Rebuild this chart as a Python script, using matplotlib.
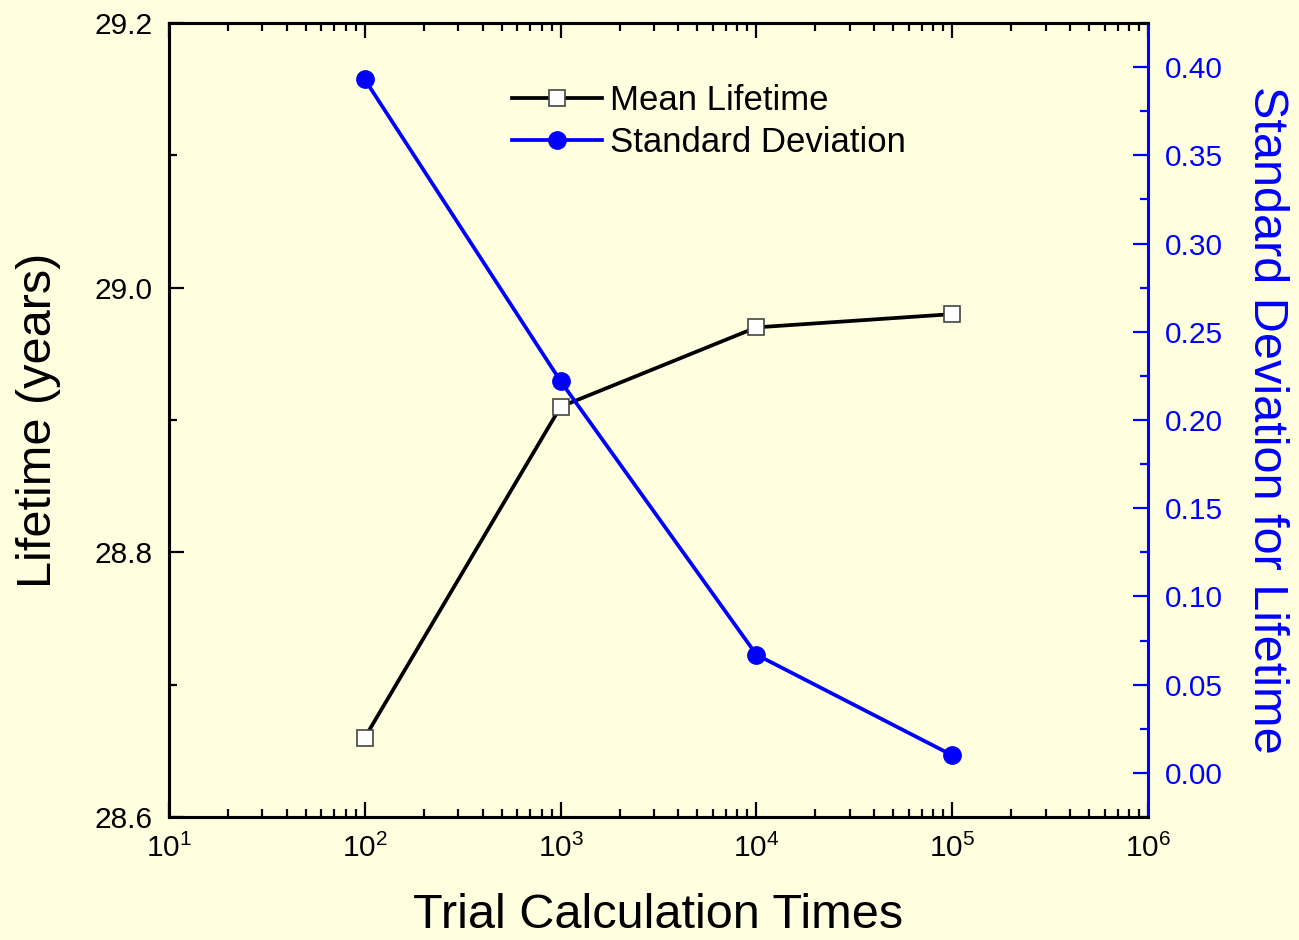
import matplotlib
matplotlib.use('Agg')
import matplotlib.pyplot as plt
from matplotlib.ticker import LogLocator, MultipleLocator, FormatStrFormatter

plt.rcParams['font.family'] = ['Liberation Sans', 'DejaVu Sans']
plt.rcParams['mathtext.fontset'] = 'custom'
plt.rcParams['mathtext.rm'] = 'Liberation Sans'
plt.rcParams['mathtext.it'] = 'Liberation Sans:italic'

# data
trials = [1e2, 1e3, 1e4, 1e5]
mean_life = [28.66, 28.91, 28.97, 28.98]
std_life = [0.393, 0.222, 0.067, 0.010]

bg = '#FFFFE0'
fig = plt.figure(figsize=(12.99, 9.4), dpi=100, facecolor=bg)
fig.subplots_adjust(left=169/1299, right=1148/1299, top=1-23/940, bottom=1-817/940)
ax = fig.add_subplot(111)
ax.set_facecolor(bg)
ax2 = ax.twinx()

l1, = ax.plot(trials, mean_life, color='black', lw=2.7, marker='s', ms=11.5,
              mfc='white', mec='#444444', mew=1.2, label='Mean Lifetime')
l2, = ax2.plot(trials, std_life, color='blue', lw=2.7, marker='o', ms=12.5,
               mfc='blue', mec='blue', label='Standard Deviation')

ax.set_xscale('log')
ax.set_xlim(10, 1e6)
ax.set_ylim(28.6, 29.2)
ax2.set_ylim(-0.025, 0.425)

ax.xaxis.set_major_locator(LogLocator(base=10, numticks=10))
ax.xaxis.set_minor_locator(LogLocator(base=10, subs=range(2, 10), numticks=20))
ax.yaxis.set_major_locator(MultipleLocator(0.2))
ax.yaxis.set_minor_locator(MultipleLocator(0.1))
ax.yaxis.set_major_formatter(FormatStrFormatter('%.1f'))
ax2.yaxis.set_major_locator(MultipleLocator(0.05))
ax2.yaxis.set_minor_locator(MultipleLocator(0.025))
ax2.yaxis.set_major_formatter(FormatStrFormatter('%.2f'))

ax.tick_params(which='both', direction='in', top=True, right=False, width=1.6,
               labelsize=21.5, colors='black')
ax.tick_params(which='major', length=11)
ax.tick_params(which='minor', length=6)
ax.tick_params(axis='x', pad=12)
ax.tick_params(axis='y', pad=12)
ax2.tick_params(which='both', direction='in', width=1.6, colors='blue',
                labelsize=21.5, pad=12)
ax2.tick_params(which='major', length=11)
ax2.tick_params(which='minor', length=6)

for s in ['left', 'bottom', 'top']:
    ax.spines[s].set_linewidth(2.2)
    ax2.spines[s].set_linewidth(2.2)
ax2.spines['right'].set_linewidth(2.2)
ax2.spines['right'].set_color('blue')
ax.spines['right'].set_visible(False)

ax.set_xlabel('Trial Calculation Times', fontsize=35, labelpad=22)
ax.set_ylabel('Lifetime (years)', fontsize=35, labelpad=24)
ax2.set_ylabel('Standard Deviation for Lifetime', fontsize=35, color='blue',
               rotation=270, labelpad=48)

ax2.legend(handles=[l1, l2], loc='upper left', bbox_to_anchor=(0.350, 0.923),
           frameon=False, fontsize=25, handlelength=2.6, handletextpad=0.23,
           labelspacing=0.26, borderpad=0, borderaxespad=0)

fig.savefig('out.png', dpi=100, facecolor=bg)
